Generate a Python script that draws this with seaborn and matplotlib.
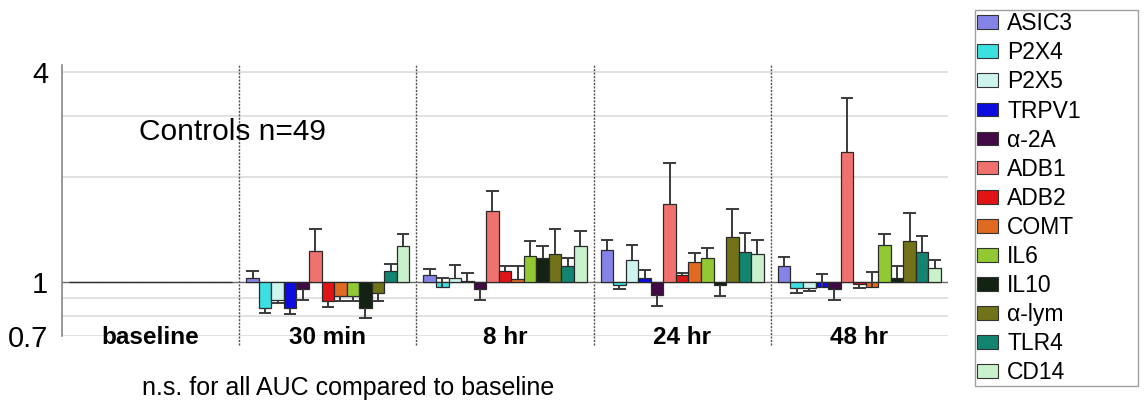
import numpy as np
import pandas as pd
import seaborn as sns
import matplotlib.pyplot as plt
from matplotlib.patches import Patch

# Data (fold change vs baseline)
genes = ["ASIC3", "P2X4", "P2X5", "TRPV1", "α-2A", "ADB1", "ADB2",
         "COMT", "IL6", "IL10", "α-lym", "TLR4", "CD14"]
gene_colors = ["#8484e6", "#3ce0e0", "#cdf4ef", "#0c0ce0", "#420a44", "#f0726e",
               "#e01414", "#e06a22", "#92c832", "#132313", "#727218", "#128470",
               "#c9f1cb"]
times = ["baseline", "30 min", "8 hr", "24 hr", "48 hr"]

fold_baseline = [1.0, 1.0, 1.0, 1.0, 1.0, 1.0, 1.0, 1.0, 1.0, 1.0, 1.0, 1.0, 1.0]
fold_30min = [1.03, 0.84, 0.89, 0.84, 0.955, 1.23, 0.88, 0.91, 0.91, 0.84, 0.93, 1.075, 1.27]
fold_8hr = [1.045, 0.97, 1.03, 1.01, 0.953, 1.60, 1.075, 1.02, 1.19, 1.17, 1.20, 1.11, 1.27]
fold_24hr = [1.24, 0.98, 1.16, 1.03, 0.92, 1.67, 1.05, 1.14, 1.17, 0.98, 1.35, 1.22, 1.20]
fold_48hr = [1.11, 0.963, 0.96, 0.97, 0.955, 2.36, 0.985, 0.97, 1.28, 1.03, 1.31, 1.22, 1.10]

# error bar tips
tip_baseline = [1.0, 1.0, 1.0, 1.0, 1.0, 1.0, 1.0, 1.0, 1.0, 1.0, 1.0, 1.0, 1.0]
tip_30min = [1.075, 0.815, 0.87, 0.81, 0.89, 1.42, 0.85, 0.88, 0.88, 0.79, 0.88, 1.13, 1.37]
tip_8hr = [1.09, 1.025, 1.12, 1.065, 0.887, 1.83, 1.11, 1.11, 1.31, 1.27, 1.42, 1.17, 1.40]
tip_24hr = [1.32, 0.955, 1.28, 1.08, 0.853, 2.19, 1.06, 1.21, 1.25, 0.91, 1.62, 1.38, 1.32]
tip_48hr = [1.18, 0.93, 0.94, 1.055, 0.89, 3.37, 0.96, 1.07, 1.37, 1.11, 1.58, 1.36, 1.16]

y_ticks = [0.7, 1, 4]
y_grid = [0.7, 0.8, 0.9, 2, 3, 4]

means = dict(zip(times, [fold_baseline, fold_30min, fold_8hr, fold_24hr, fold_48hr]))
tips = dict(zip(times, [tip_baseline, tip_30min, tip_8hr, tip_24hr, tip_48hr]))

rows = []
for t in times:
    for g, m, tp in zip(genes, means[t], tips[t]):
        rows.append({"time": t, "gene": g, "fold": m, "tip": tp})
df = pd.DataFrame(rows)
df["log_fold"] = np.log10(df["fold"])

sns.set_style("white", {"text.color": "black", "xtick.color": "black",
                        "ytick.color": "black"})
plt.rcParams["font.family"] = ["Liberation Sans", "DejaVu Sans"]

W, H = 1144, 412
fig = plt.figure(figsize=(W / 100, H / 100), dpi=100)
ax = fig.add_axes([62 / W, 1 - 336 / H, (948 - 62) / W, (336 - 65) / H])

# grid
for v in y_grid:
    ax.axhline(np.log10(v), color="#dcdcdc", lw=1.2, zorder=0)

sns.barplot(data=df, x="time", y="log_fold", hue="gene", order=times,
            hue_order=genes, palette=dict(zip(genes, gene_colors)),
            saturation=1, errorbar=None, width=0.92, edgecolor="#2a2a2a",
            linewidth=0.9, legend=False, ax=ax, zorder=3)

ax.axhline(0, color="#6a6a6a", lw=1.0, zorder=2)

# one-sided error bars
for gi, cont in enumerate(ax.containers):
    g = genes[gi]
    for bar, t in zip(cont, times):
        row = df[(df.gene == g) & (df.time == t)].iloc[0]
        if row.tip == row.fold:
            continue
        xc = bar.get_x() + bar.get_width() / 2
        w = bar.get_width()
        y0, y1 = np.log10(row.fold), np.log10(row.tip)
        ax.vlines(xc, y0, y1, color="#3a3a3a", lw=1.4, zorder=4)
        ax.hlines(y1, xc - w / 2, xc + w / 2, color="#3a3a3a", lw=1.4, zorder=4)

# group separators
for xs in [0.5, 1.5, 2.5, 3.5]:
    ax.axvline(xs, ymin=-0.035, ymax=1, color="#505050", lw=1.0,
               ls=(0, (1.5, 1)), clip_on=False, zorder=1)

ax.set_xlim(-0.5, 4.5)
ax.set_ylim(np.log10(0.7), np.log10(4.2))
ax.set_yticks(np.log10(y_ticks))
ax.set_yticklabels(["0.7", "1", "4"], fontsize=21)
ax.set_xticks(range(len(times)))
ax.set_xticklabels(times, fontsize=17.5, fontweight="bold")
ax.tick_params(axis="x", length=0, pad=-7)
ax.tick_params(axis="y", length=4, color="#888888", pad=6)
ax.set_xlabel("")
ax.set_ylabel("")
for side in ["top", "right", "bottom"]:
    ax.spines[side].set_visible(False)
ax.spines["left"].set_color("#888888")
ax.spines["left"].set_linewidth(1.2)

ax.text(0.46, np.log10(2.69), "Controls n=49", fontsize=21.5, ha="center", va="center")

fig.text(142 / W, 1 - 388 / H, "n.s. for all AUC compared to baseline",
         fontsize=18, va="center")

handles = [Patch(facecolor=c, edgecolor="#333333", linewidth=0.8, label=g)
           for g, c in zip(genes, gene_colors)]
leg = fig.legend(handles=handles, loc="upper left",
                 bbox_to_anchor=(975 / W, 1 - 385 / H, (1138 - 975) / W, (385 - 10) / H),
                 mode="expand", frameon=True, fancybox=False, edgecolor="#888888",
                 fontsize=16.5, labelspacing=0.265, handlelength=0.9, handleheight=0.55,
                 handletextpad=0.4, borderpad=0.1, borderaxespad=0)
leg.get_frame().set_linewidth(1.0)

fig.savefig("out.png", dpi=100)
